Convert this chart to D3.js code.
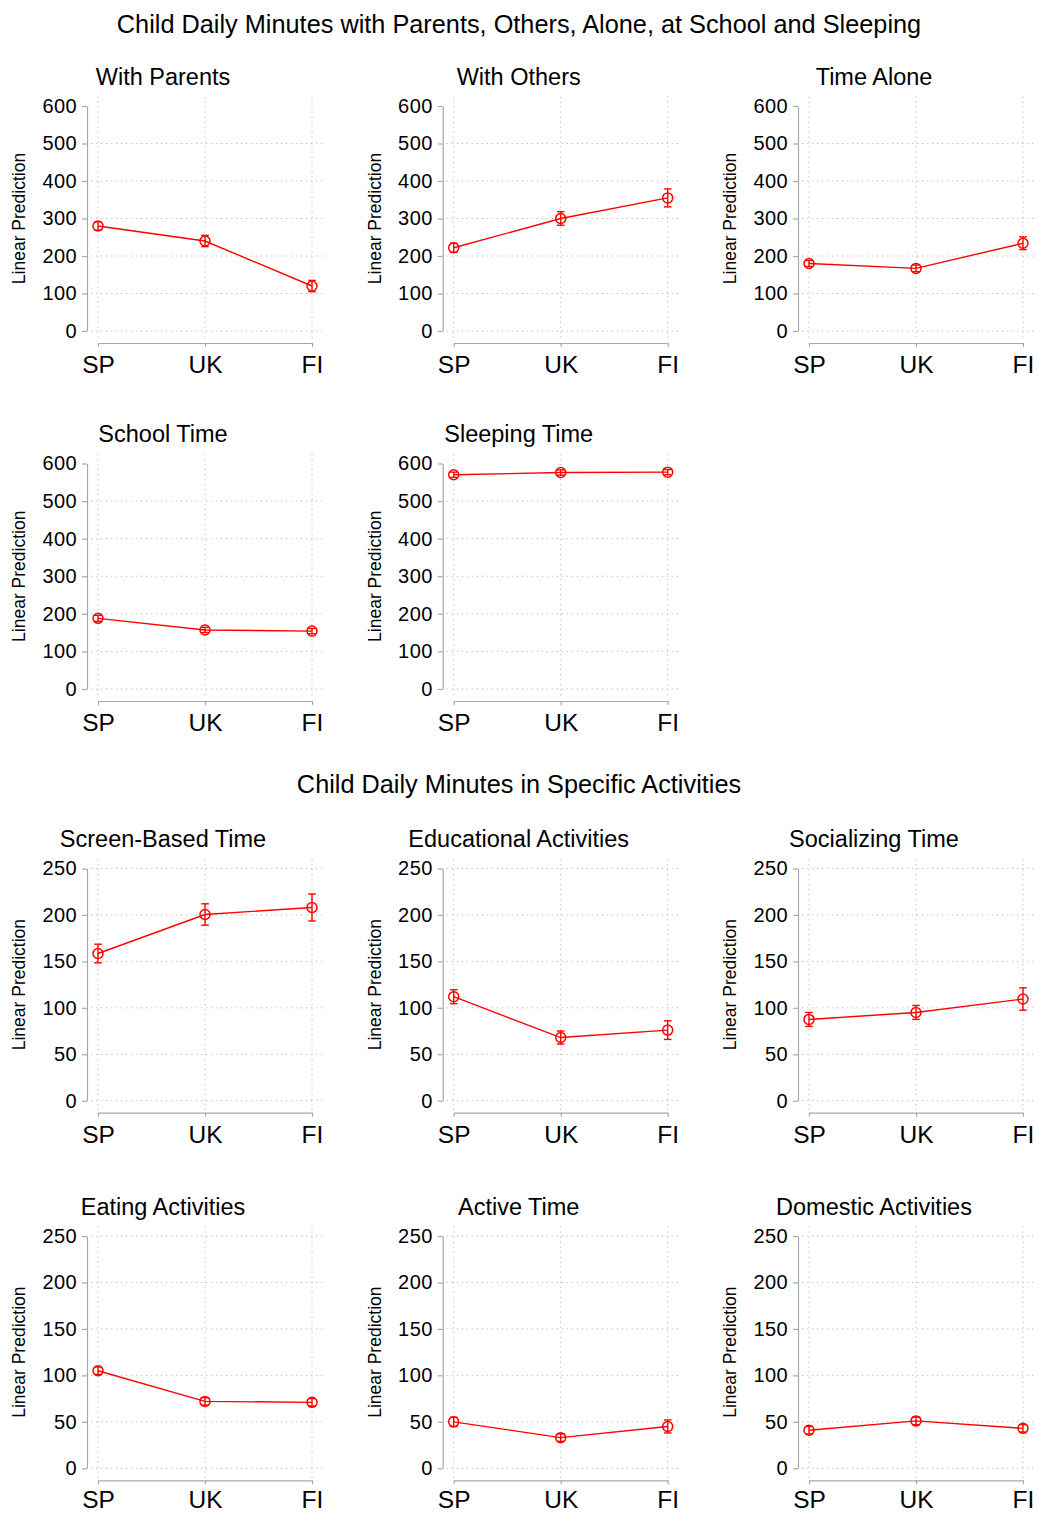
<!DOCTYPE html>
<html>
<head>
<meta charset="utf-8">
<script src="https://cdn.jsdelivr.net/npm/d3@7"></script>
<style>
  body { margin: 0; background: #fff; }
  svg { display: block; font-family: "Liberation Sans", Arial, Helvetica, sans-serif; }
</style>
</head>
<body>
<svg id="chart" width="1038" height="1514"></svg>
<script>
// ---------- data ----------
const countries = ["SP", "UK", "FI"];
const mainTitle1 = "Child Daily Minutes with Parents, Others, Alone, at School and Sleeping";
const mainTitle2 = "Child Daily Minutes in Specific Activities";
const yAxisTitle = "Linear Prediction";

const ticksTop = [0, 100, 200, 300, 400, 500, 600];
const ticksBottom = [0, 50, 100, 150, 200, 250];

const panelTitles = [
  "With Parents", "With Others", "Time Alone",
  "School Time", "Sleeping Time",
  "Screen-Based Time", "Educational Activities", "Socializing Time",
  "Eating Activities", "Active Time", "Domestic Activities"
];

// means (minutes)
const withParents = [280, 240, 120];
const withOthers = [222, 300, 355];
const timeAlone = [180, 167, 234];
const schoolTime = [188, 157, 154];
const sleepingTime = [570, 576, 577];
const screenTime = [158.5, 200.5, 208];
const educational = [112, 68, 76];
const socializing = [87.5, 95, 109.5];
const eating = [105, 72, 71];
const activeTime = [50, 33, 45];
const domestic = [41, 51, 43];

// 95% CI half-widths
const withParentsCI = [11, 15, 15];
const withOthersCI = [12, 18, 24];
const timeAloneCI = [8, 9, 17];
const schoolTimeCI = [8, 7, 7];
const sleepingTimeCI = [7, 7, 7];
const screenTimeCI = [10, 11.5, 14.5];
const educationalCI = [7.5, 7, 10];
const socializingCI = [7.5, 7.5, 12];
const eatingCI = [4, 4, 4];
const activeTimeCI = [5, 4, 7];
const domesticCI = [4, 4, 4];

const panelMeans = [withParents, withOthers, timeAlone, schoolTime, sleepingTime,
  screenTime, educational, socializing, eating, activeTime, domestic];
const panelCIs = [withParentsCI, withOthersCI, timeAloneCI, schoolTimeCI, sleepingTimeCI,
  screenTimeCI, educationalCI, socializingCI, eatingCI, activeTimeCI, domesticCI];

// ---------- layout ----------
const colOffsets = [0, 355.7, 711];
const rows = [
  { top: 106, zero: 331, ticks: ticksTop, max: 600, pad: 9 },
  { top: 463.5, zero: 689, ticks: ticksTop, max: 600, pad: 9 },
  { top: 868.5, zero: 1100.7, ticks: ticksBottom, max: 250, pad: 9 },
  { top: 1236, zero: 1468.3, ticks: ticksBottom, max: 250, pad: 6.5 }
];
const panelPos = [
  [0, 0], [0, 1], [0, 2],
  [1, 0], [1, 1],
  [2, 0], [2, 1], [2, 2],
  [3, 0], [3, 1], [3, 2]
];

const RED = "#ff0000";
const AXIS = "#a8a8a8";
const GRID = "#bdbdbd";

const svg = d3.select("#chart");
svg.append("rect").attr("width", 1038).attr("height", 1514).attr("fill", "#fff");

svg.append("text").attr("x", 519).attr("y", 33).attr("text-anchor", "middle")
  .attr("font-size", 25.3).attr("fill", "#000").text(mainTitle1);
svg.append("text").attr("x", 519).attr("y", 793).attr("text-anchor", "middle")
  .attr("font-size", 25.3).attr("fill", "#000").text(mainTitle2);

panelTitles.forEach((title, i) => {
  const [r, c] = panelPos[i];
  const row = rows[r];
  const off = colOffsets[c];
  const g = svg.append("g");

  const x = d3.scalePoint().domain(countries).range([98 + off, 312 + off]);
  const y = d3.scaleLinear().domain([0, row.max]).range([row.zero, row.top]);

  const plotLeft = 91 + off, plotRight = 323 + off;
  const plotTop = row.top - 9.5, plotBottom = row.zero + 9.5;

  // horizontal grid (skip top for 0-600 rows)
  g.append("g").selectAll("line")
    .data(row.ticks.filter(t => !(row.max === 600 && t === 600)))
    .join("line")
    .attr("x1", plotLeft).attr("x2", plotRight)
    .attr("y1", d => y(d)).attr("y2", d => y(d))
    .attr("stroke", GRID).attr("stroke-width", 1).attr("stroke-dasharray", "1.3,3.7");

  // vertical grid
  g.append("g").selectAll("line").data(countries).join("line")
    .attr("x1", d => x(d)).attr("x2", d => x(d))
    .attr("y1", plotTop).attr("y2", plotBottom)
    .attr("stroke", GRID).attr("stroke-width", 1).attr("stroke-dasharray", "1.3,3.7");

  // y axis
  const ya = g.append("g").attr("transform", `translate(${87 + off},0)`)
    .call(d3.axisLeft(y).tickValues(row.ticks).tickSize(5).tickSizeOuter(0).tickPadding(5));
  ya.select(".domain").attr("stroke", AXIS).attr("stroke-width", 1.2);
  ya.selectAll(".tick line").attr("stroke", AXIS).attr("stroke-width", 1.2);
  ya.selectAll(".tick text").attr("font-size", 20).attr("fill", "#000")
    .attr("font-family", "Liberation Sans, Arial, sans-serif").attr("letter-spacing", 0.4);

  // x axis
  const xa = g.append("g").attr("transform", `translate(0,${row.zero + 12})`)
    .call(d3.axisBottom(x).tickSize(4).tickSizeOuter(0).tickPadding(row.pad));
  xa.select(".domain").attr("stroke", AXIS).attr("stroke-width", 1.2);
  xa.selectAll(".tick line").attr("stroke", AXIS).attr("stroke-width", 1.2);
  xa.selectAll(".tick text").attr("font-size", 24.5).attr("fill", "#000")
    .attr("font-family", "Liberation Sans, Arial, sans-serif");

  // y axis title
  g.append("text")
    .attr("transform", `translate(${25 + off},${(row.top + row.zero) / 2}) rotate(-90)`)
    .attr("text-anchor", "middle").attr("font-size", 17.5).attr("fill", "#000")
    .text(yAxisTitle);

  // panel title
  g.append("text").attr("x", off + 163).attr("y", row.top - 21.5)
    .attr("text-anchor", "middle").attr("font-size", 23.5).attr("fill", "#000")
    .text(title);

  const means = panelMeans[i];
  const cis = panelCIs[i];
  const pts = countries.map((k, j) => ({ k, m: means[j], h: cis[j] }));

  // connecting line
  g.append("path").datum(pts)
    .attr("d", d3.line().x(d => x(d.k)).y(d => y(d.m)))
    .attr("fill", "none").attr("stroke", RED).attr("stroke-width", 1.4);

  // error bars
  const eb = g.append("g").selectAll("g").data(pts).join("g");
  eb.append("line")
    .attr("x1", d => x(d.k)).attr("x2", d => x(d.k))
    .attr("y1", d => y(d.m - d.h)).attr("y2", d => y(d.m + d.h))
    .attr("stroke", RED).attr("stroke-width", 1.4);
  eb.append("line")
    .attr("x1", d => x(d.k) - 3.8).attr("x2", d => x(d.k) + 3.8)
    .attr("y1", d => y(d.m + d.h)).attr("y2", d => y(d.m + d.h))
    .attr("stroke", RED).attr("stroke-width", 1.4);
  eb.append("line")
    .attr("x1", d => x(d.k) - 3.8).attr("x2", d => x(d.k) + 3.8)
    .attr("y1", d => y(d.m - d.h)).attr("y2", d => y(d.m - d.h))
    .attr("stroke", RED).attr("stroke-width", 1.4);

  // markers
  g.append("g").selectAll("circle").data(pts).join("circle")
    .attr("cx", d => x(d.k)).attr("cy", d => y(d.m)).attr("r", 5)
    .attr("fill", "none").attr("stroke", RED).attr("stroke-width", 1.5);
});
</script>
</body>
</html>
